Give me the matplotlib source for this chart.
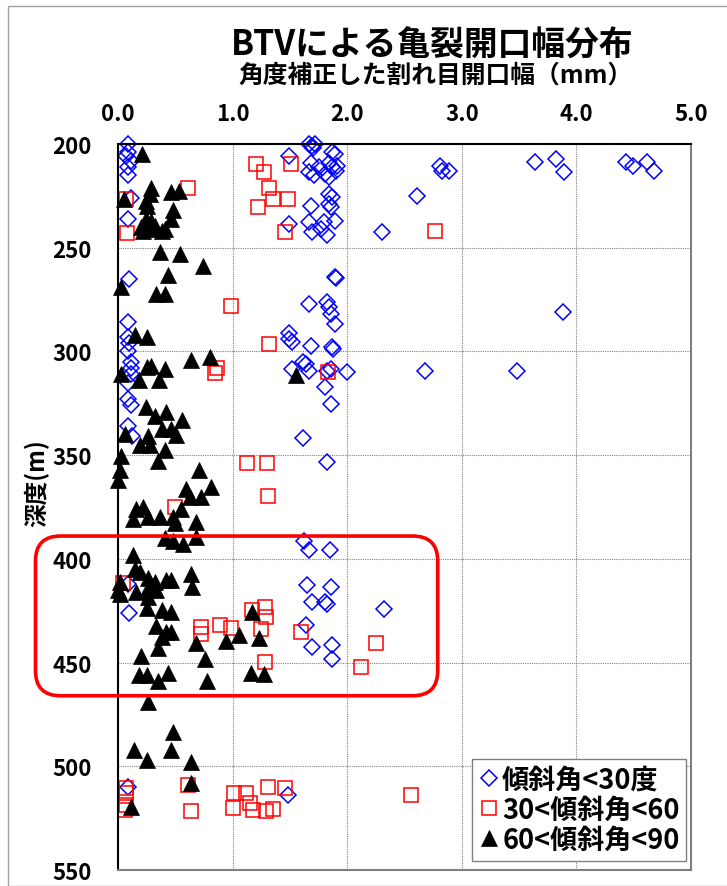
import matplotlib
matplotlib.use("Agg")
import matplotlib.pyplot as plt
from matplotlib.patches import FancyBboxPatch, Rectangle
from matplotlib.transforms import IdentityTransform
import numpy as np

plt.rcParams['font.family'] = ['Noto Sans CJK JP', 'DejaVu Sans']

title = "BTVによる亀裂開口幅分布"
xlabel = "角度補正した割れ目開口幅（mm）"
ylabel = "深度(m)"
labels = ["傾斜角<30度", "30<傾斜角<60", "60<傾斜角<90"]

# series 1: dip < 30 (blue diamonds)
s1_x = [0.09, 0.09, 0.07, 0.11, 0.09, 0.09, 0.11, 0.09, 0.10, 0.09, 0.09, 0.10, 0.09, 0.11, 0.11,
        0.11, 0.09, 0.09, 0.11, 0.09, 0.12, 0.09, 0.10, 0.09,
        1.67, 1.69, 1.72, 1.70, 1.49, 1.87, 1.68, 1.67, 1.71, 1.84, 1.87, 1.90, 1.81, 1.84, 1.91,
        1.75, 1.89, 1.84, 1.87, 1.84, 1.68, 1.86, 1.49, 1.67, 1.69, 1.80, 1.82, 1.89, 1.77, 1.89,
        1.90, 1.67, 1.82, 1.84, 1.86, 1.89, 1.49, 1.49, 1.52, 1.68, 1.87, 1.88, 1.61, 1.52, 1.67,
        1.64, 1.82, 1.86, 2.00, 1.81, 1.86, 1.61, 1.82, 1.62, 1.67, 1.85,
        2.81, 2.83, 2.89, 2.61, 2.30, 3.64, 3.82, 3.89, 4.43, 4.49, 4.62, 4.68, 3.88, 2.68, 3.48,
        1.65, 1.86, 1.69, 1.81, 1.82, 1.64, 1.69, 1.87, 1.87, 2.32, 1.48]
s1_y = [200, 204, 206, 208, 211, 215, 226, 236, 265, 286, 293, 296, 300, 305, 308,
        311, 315, 323, 326, 336, 341, 412, 426, 510,
        200, 201, 200, 202, 206, 204, 209, 213.5, 215, 209, 211, 213, 214.5, 216, 210.5,
        211, 205, 224, 225.5, 229, 230, 230.5, 238.5, 237.5, 242.5, 237.5, 244, 237, 241, 264,
        264.5, 277, 276, 278.5, 282, 287, 291, 294, 295.5, 297.5, 298, 299, 305, 308.5, 309.5,
        306, 309.5, 308.5, 310, 317, 325.5, 341.5, 353.5, 391.5, 395.5, 395.5,
        210.5, 213, 213, 225, 242.5, 208.5, 207, 213.5, 208.5, 210.5, 208.5, 213, 281, 309.5, 309.5,
        412.5, 413.5, 421, 421, 422, 432, 442.5, 441.5, 448.5, 424, 514]

# series 2: 30 < dip < 60 (red squares)
s2_x = [0.61, 0.07, 0.08, 0.99, 1.20, 1.27, 1.51, 1.32, 1.35, 1.48, 1.22, 1.46, 2.77, 1.32, 1.83,
        0.86, 0.85, 1.13, 1.30, 1.31, 0.50, 0.04, 0.72, 0.72, 0.89, 0.99, 1.17, 1.28, 1.29, 1.25,
        1.60, 2.25, 2.12, 1.28, 0.61, 0.64, 1.01, 1.12, 1.15, 1.00, 1.18, 1.29, 1.35, 1.31, 1.46,
        2.56, 0.07, 0.07, 0.07, 0.06]
s2_y = [221, 226.5, 243, 278, 209.5, 213.5, 209.5, 221, 226.5, 226.5, 230.5, 242.5, 242, 296.5, 310,
        308, 310.5, 354, 354, 369.5, 375, 411.5, 433, 436, 432, 433.5, 424.5, 423, 428, 434,
        435.5, 440.5, 452, 449.5, 509, 521.5, 513, 513, 517.5, 520, 521, 521.5, 520.5, 510, 510.5,
        514, 510.5, 513, 518.5, 521]

# series 3: 60 < dip < 90 (black triangles)
s3_x = [0.21, 0.05, 0.29, 0.28, 0.24, 0.46, 0.53, 0.25, 0.48, 0.24, 0.29, 0.20, 0.22, 0.32, 0.38,
        0.46, 0.41, 0.28, 0.37, 0.54, 0.74, 0.44, 0.03, 0.33, 0.41, 0.15, 0.25, 0.64, 0.80, 0.03,
        0.25, 0.29, 0.41, 0.18, 0.36, 1.55, 0.24, 0.32, 0.42, 0.56, 0.38, 0.46, 0.51, 0.26, 0.06,
        0.19, 0.28, 0.41, 0.35, 0.03, 0.02, 0.00, 0.71, 0.81, 0.59, 0.72, 0.63, 0.55, 0.68, 0.16,
        0.22, 0.13, 0.26, 0.37, 0.48, 0.50, 0.41, 0.48, 0.57, 0.68, 0.13, 0.15, 0.19, 0.02, 0.00,
        0.02, 0.16, 0.26, 0.32, 0.42, 0.46, 0.64, 0.65, 0.25, 0.26, 0.33, 0.25, 0.38, 0.46, 0.33,
        0.42, 0.38, 0.46, 0.35, 0.68, 0.76, 0.94, 0.20, 0.18, 0.25, 0.35, 0.44, 0.78, 0.26, 0.48,
        0.14, 0.46, 0.25, 0.64, 0.64, 0.11, 1.06, 1.17, 1.23, 1.16, 1.27]
s3_y = [205, 226.5, 221, 224, 227.5, 223, 222.5, 230, 232, 236, 237, 240, 242, 239.5, 242,
        236, 241, 241, 252, 253, 259, 263, 269, 272.5, 272.5, 292, 293, 304, 302.5, 311,
        307.5, 307, 308.5, 314, 314, 311.5, 327, 331, 329, 333, 337.5, 337.5, 340.5, 341, 340,
        345, 345, 347.5, 353, 350.5, 357, 362, 357, 365.5, 366.5, 370, 370, 376, 382, 376,
        375, 381, 380, 380, 380, 382.5, 390, 391.5, 393, 389.5, 398, 405, 406.5, 411, 415,
        417, 416, 409, 411, 410, 410, 407.5, 413.5, 415, 418.5, 415, 423.5, 424.5, 425.5, 432.5,
        435.5, 437.5, 435.5, 443, 440.5, 448.5, 439.5, 447, 456, 456, 459, 455, 459, 469, 483.5,
        492, 492, 497, 498, 508, 519.5, 436.5, 425.5, 438, 455, 455.5]

x_ticks = [0.0, 1.0, 2.0, 3.0, 4.0, 5.0]
x_ticklabels = ["0.0", "1.0", "2.0", "3.0", "4.0", "5.0"]
y_ticks = [200, 250, 300, 350, 400, 450, 500, 550]

fig = plt.figure(figsize=(7.27, 8.87), dpi=100)
ax = fig.add_axes([118/727, 1 - 871/887, 573/727, 726/887])

ax.plot(s1_x, s1_y, linestyle='none', marker='D', ms=8.2, mfc='none', mec='#0000ff', mew=1.1,
        label=labels[0], clip_on=False)
ax.plot(s2_x, s2_y, linestyle='none', marker='s', ms=10.2, mfc='none', mec='#ff0000', mew=1.1,
        label=labels[1], clip_on=False)
ax.plot(s3_x, s3_y, linestyle='none', marker='^', ms=12, mfc='black', mec='black', mew=0.5,
        label=labels[2], clip_on=False)

ax.set_xlim(0, 5)
ax.set_ylim(550, 200)
ax.xaxis.tick_top()
ax.set_xticks(x_ticks)
ax.set_xticklabels(x_ticklabels)
ax.set_yticks(y_ticks)
ax.tick_params(axis='both', length=0, labelsize=16)
ax.tick_params(axis='x', pad=14)
ax.tick_params(axis='y', pad=19)
for t in ax.get_xticklabels() + ax.get_yticklabels():
    t.set_fontweight('bold')

ax.grid(True, color='#808080', linestyle=(0, (1, 1)), linewidth=0.8)
ax.set_axisbelow(True)
for side in ['top', 'left']:
    ax.spines[side].set_color('black')
    ax.spines[side].set_linewidth(1.5)
for side in ['right', 'bottom']:
    ax.spines[side].set_color('#808080')
    ax.spines[side].set_linewidth(1.5)

leg = ax.legend(loc='lower right', bbox_to_anchor=(0.992, 0.013), borderaxespad=0,
                prop={'size': 19.5, 'weight': 'bold'}, handlelength=0.7, handletextpad=0.15,
                labelspacing=0.08, borderpad=0.25, fancybox=False, framealpha=1,
                edgecolor='#808080', markerscale=1.0)
leg.get_frame().set_linewidth(1.0)

fig.text(432/727, 1 - 45/887, title, ha='center', va='center', fontsize=24.3, fontweight='bold')
fig.text(436/727, 1 - 76/887, xlabel, ha='center', va='center', fontsize=17.8, fontweight='bold')
fig.text(37/727, 1 - 483/887, ylabel, ha='center', va='center', fontsize=17, fontweight='bold',
         rotation=90)

# highlight box (data coords -> display pixels)
(bx0, by0) = ax.transData.transform((-0.72, 466))
(bx1, by1) = ax.transData.transform((2.79, 389))
box = FancyBboxPatch((bx0, by0), bx1 - bx0, by1 - by0,
                     boxstyle='round,pad=0,rounding_size=25', transform=IdentityTransform(),
                     ec='#ff0000', fc='none', lw=2.6, zorder=10)
fig.add_artist(box)

# chart area border
border = Rectangle((8/727, 0), 1.0, 1 - 7/887, transform=fig.transFigure, fill=False,
                   ec='#a0a0a0', lw=1.0)
fig.add_artist(border)

fig.savefig("out.png", dpi=100)
